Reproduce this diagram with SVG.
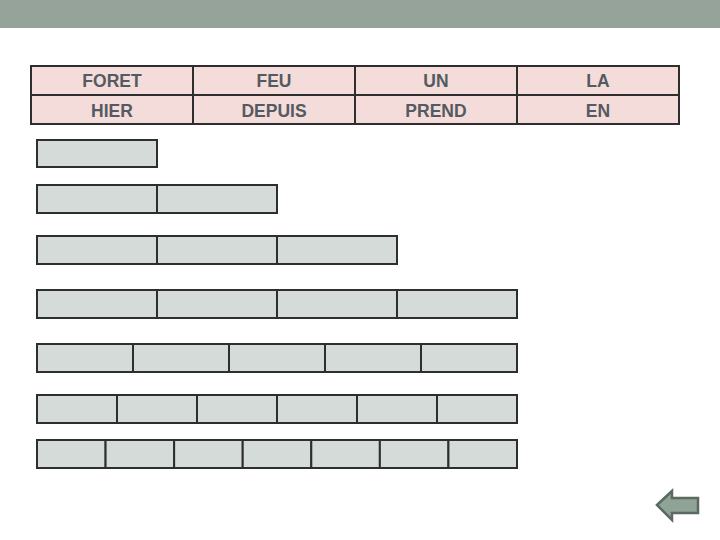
<svg xmlns="http://www.w3.org/2000/svg" width="720" height="540" viewBox="0 0 720 540">
<style>
.cell{fill:#f4dcda;stroke:#2e2e2e;stroke-width:2}
.t{font-family:"Liberation Sans",Arial,sans-serif;font-size:17.5px;font-weight:bold;fill:#545a61;text-anchor:middle}
.box{fill:#d5dbd8;stroke:#2e2e2e;stroke-width:2}
</style>
<rect x="0" y="0" width="720" height="540" fill="#ffffff"/>
<rect x="0" y="0" width="720" height="28" fill="#95a39a"/>
<g id="table">
<rect class="cell" x="31" y="66" width="162" height="29"/>
<rect class="cell" x="193" y="66" width="162" height="29"/>
<rect class="cell" x="355" y="66" width="162" height="29"/>
<rect class="cell" x="517" y="66" width="162" height="29"/>
<rect class="cell" x="31" y="95" width="162" height="29"/>
<rect class="cell" x="193" y="95" width="162" height="29"/>
<rect class="cell" x="355" y="95" width="162" height="29"/>
<rect class="cell" x="517" y="95" width="162" height="29"/>
<text class="t" x="112" y="87">FORET</text>
<text class="t" x="274" y="87">FEU</text>
<text class="t" x="436" y="87">UN</text>
<text class="t" x="598" y="87">LA</text>
<text class="t" x="112" y="116.5">HIER</text>
<text class="t" x="274" y="116.5">DEPUIS</text>
<text class="t" x="436" y="116.5">PREND</text>
<text class="t" x="598" y="116.5">EN</text>
</g>
<g id="row1">
<rect class="box" x="37" y="140" width="120" height="27"/>
</g>
<g id="row2">
<rect class="box" x="37" y="185" width="120" height="28"/>
<rect class="box" x="157" y="185" width="120" height="28"/>
</g>
<g id="row3">
<rect class="box" x="37" y="236" width="120" height="28"/>
<rect class="box" x="157" y="236" width="120" height="28"/>
<rect class="box" x="277" y="236" width="120" height="28"/>
</g>
<g id="row4">
<rect class="box" x="37" y="290" width="120" height="28"/>
<rect class="box" x="157" y="290" width="120" height="28"/>
<rect class="box" x="277" y="290" width="120" height="28"/>
<rect class="box" x="397" y="290" width="120" height="28"/>
</g>
<g id="row5">
<rect class="box" x="37" y="344" width="96" height="28"/>
<rect class="box" x="133" y="344" width="96" height="28"/>
<rect class="box" x="229" y="344" width="96" height="28"/>
<rect class="box" x="325" y="344" width="96" height="28"/>
<rect class="box" x="421" y="344" width="96" height="28"/>
</g>
<g id="row6">
<rect class="box" x="37" y="395" width="80" height="28"/>
<rect class="box" x="117" y="395" width="80" height="28"/>
<rect class="box" x="197" y="395" width="80" height="28"/>
<rect class="box" x="277" y="395" width="80" height="28"/>
<rect class="box" x="357" y="395" width="80" height="28"/>
<rect class="box" x="437" y="395" width="80" height="28"/>
</g>
<g id="row7">
<rect class="box" x="37" y="440" width="68.57" height="28"/>
<rect class="box" x="105.57" y="440" width="68.57" height="28"/>
<rect class="box" x="174.14" y="440" width="68.57" height="28"/>
<rect class="box" x="242.71" y="440" width="68.57" height="28"/>
<rect class="box" x="311.29" y="440" width="68.57" height="28"/>
<rect class="box" x="379.86" y="440" width="68.57" height="28"/>
<rect class="box" x="448.43" y="440" width="68.57" height="28"/>
</g>
<g id="back-arrow">
<polygon points="657,505 672,491 672,498 698,498 698,513 672,513 672,520" fill="#8fa396" stroke="#5b6a61" stroke-width="2.5" stroke-linejoin="miter"/>
</g>
</svg>
